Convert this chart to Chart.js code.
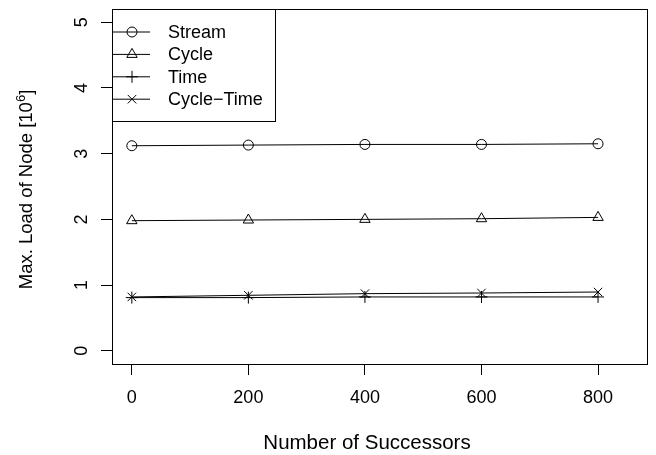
<!DOCTYPE html>
<html>
<head>
<meta charset="utf-8">
<script src="https://cdn.jsdelivr.net/npm/chart.js@4/dist/chart.umd.min.js"></script>
<style>
    html, body { margin: 0; padding: 0; background: #fff; }
    #wrap { width: 656px; height: 455px; }
</style>
</head>
<body>
<div id="wrap"><canvas id="chart" width="656" height="455"></canvas></div>
<script>
// data
const successors = [0, 200, 400, 600, 800];
const streamLoad = [3.12, 3.13, 3.14, 3.14, 3.15];
const cycleLoad = [1.98, 1.99, 2.00, 2.01, 2.03];
const timeLoad = [0.81, 0.81, 0.82, 0.82, 0.82];
const cycleTimeLoad = [0.82, 0.845, 0.87, 0.88, 0.895];

const seriesNames = ["Stream", "Cycle", "Time", "Cycle\u2212Time"];
const xTickValues = [0, 200, 400, 600, 800];
const yTickValues = [0, 1, 2, 3, 4, 5];

const xTitle = "Number of Successors";
const yTitle = "Max. Load of Node [10";
const yTitleSup = "6";

const FONT = "'Liberation Sans', Arial, Helvetica, sans-serif";

function toPoints(ys) {
    return successors.map((x, i) => ({ x: x, y: ys[i] }));
}

function makeSet(label, ys, style, radius) {
    return {
        label: label,
        data: toPoints(ys),
        borderColor: "#000",
        borderWidth: 1,
        pointStyle: style,
        pointRadius: radius,
        pointBorderWidth: 1,
        pointBorderColor: "#000",
        pointBackgroundColor: "rgba(0,0,0,0)",
        fill: false,
        tension: 0
    };
}

// R-style frame, rotated y labels, titles and legend
const rLook = {
    id: "rLook",
    afterDraw(chart) {
        const ctx = chart.ctx;
        const area = chart.chartArea;
        const yScale = chart.scales.y;
        ctx.save();
        ctx.strokeStyle = "#000";
        ctx.lineWidth = 1;
        ctx.strokeRect(area.left + 0.5, area.top + 0.5, area.right - area.left, area.bottom - area.top);

        ctx.fillStyle = "#000";
        ctx.font = "18px " + FONT;
        ctx.textAlign = "center";
        ctx.textBaseline = "alphabetic";
        yScale.ticks.forEach(t => {
            const py = yScale.getPixelForValue(t.value);
            ctx.save();
            ctx.translate(87, py);
            ctx.rotate(-Math.PI / 2);
            ctx.fillText(String(t.value), 0, 0);
            ctx.restore();
        });

        // x title
        ctx.font = "20.5px " + FONT;
        ctx.fillText(xTitle, 367, 449);

        // y title with superscript
        ctx.save();
        ctx.translate(32, (area.top + area.bottom) / 2 + 3);
        ctx.rotate(-Math.PI / 2);
        ctx.textAlign = "left";
        const mainFont = "18.5px " + FONT;
        const supFont = "13px " + FONT;
        ctx.font = mainFont;
        const w1 = ctx.measureText(yTitle).width;
        const w3 = ctx.measureText("]").width;
        ctx.font = supFont;
        const w2 = ctx.measureText(yTitleSup).width;
        let sx = -(w1 + w2 + w3) / 2;
        ctx.font = mainFont;
        ctx.fillText(yTitle, sx, 0);
        ctx.font = supFont;
        ctx.fillText(yTitleSup, sx + w1, -7);
        ctx.font = mainFont;
        ctx.fillText("]", sx + w1 + w2, 0);
        ctx.restore();

        // legend
        const lx = area.left, ly = area.top;
        ctx.fillStyle = "#fff";
        ctx.fillRect(lx, ly, 163, 112);
        ctx.strokeRect(lx + 0.5, ly + 0.5, 163, 112);
        ctx.font = "18px " + FONT;
        ctx.textAlign = "left";
        ctx.textBaseline = "middle";
        chart.data.datasets.forEach((ds, i) => {
            const ry = ly + 23 + i * 22.4;
            ctx.strokeStyle = "#000";
            ctx.lineWidth = 1;
            ctx.beginPath();
            ctx.moveTo(lx + 1, ry);
            ctx.lineTo(lx + 38, ry);
            ctx.stroke();
            ctx.fillStyle = "rgba(0,0,0,0)";
            Chart.helpers.drawPoint(ctx, {
                pointStyle: ds.pointStyle,
                radius: ds.pointRadius,
                rotation: 0,
                borderWidth: 1
            }, lx + 20, ry);
            ctx.fillStyle = "#000";
            ctx.fillText(ds.label, lx + 56, ry + 1);
        });
        ctx.restore();
    }
};

new Chart(document.getElementById("chart"), {
    type: "line",
    data: {
        datasets: [
            makeSet(seriesNames[0], streamLoad, "circle", 5),
            makeSet(seriesNames[1], cycleLoad, "triangle", 6),
            makeSet(seriesNames[2], timeLoad, "cross", 6),
            makeSet(seriesNames[3], cycleTimeLoad, "crossRot", 6)
        ]
    },
    options: {
        responsive: false,
        animation: false,
        events: [],
        layout: { padding: { top: 9, right: 9, left: 0, bottom: 0 } },
        plugins: { legend: { display: false }, tooltip: { enabled: false } },
        scales: {
            x: {
                type: "linear",
                min: -34,
                max: 884,
                afterFit(s) { s.height = 91; },
                afterBuildTicks(s) { s.ticks = xTickValues.map(v => ({ value: v })); },
                grid: { drawOnChartArea: false, tickLength: 11, tickColor: "#000" },
                border: { display: false },
                ticks: { color: "#000", padding: 12, maxRotation: 0, font: { size: 18, family: FONT } }
            },
            y: {
                type: "linear",
                min: -0.2,
                max: 5.2,
                afterFit(s) { s.width = 112; },
                afterBuildTicks(s) { s.ticks = yTickValues.map(v => ({ value: v })); },
                grid: { drawOnChartArea: false, tickLength: 11, tickColor: "#000" },
                border: { display: false },
                ticks: { display: false }
            }
        }
    },
    plugins: [rLook]
});
</script>
</body>
</html>
